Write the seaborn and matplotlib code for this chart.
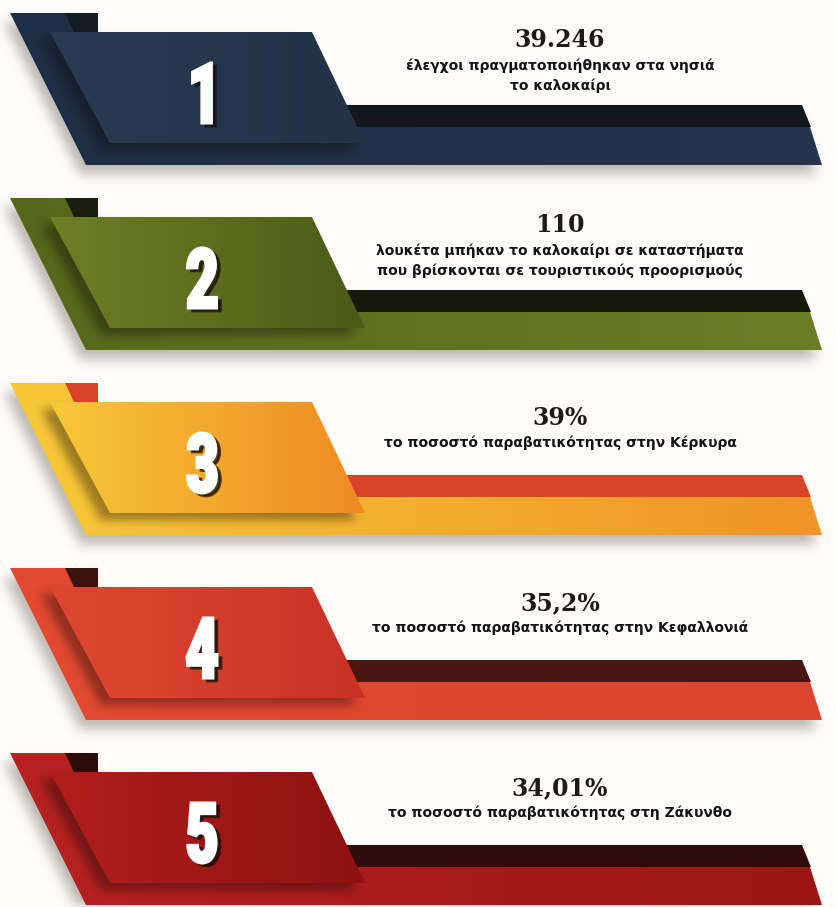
import numpy as np
import matplotlib.pyplot as plt
import seaborn as sns
from matplotlib.patches import Polygon, PathPatch
from matplotlib.path import Path
from matplotlib.textpath import TextPath
from matplotlib.font_manager import FontProperties
from matplotlib.colors import LinearSegmentedColormap
import matplotlib.transforms as mtransforms

# ─── Data ─────────────────────────────────────────────────────────────────────

ranks = ["1", "2", "3", "4", "5"]
values = ["39.246", "110", "39%", "35,2%", "34,01%"]
descriptions = [
    "έλεγχοι πραγματοποιήθηκαν στα νησιά\nτο καλοκαίρι",
    "λουκέτα μπήκαν το καλοκαίρι σε καταστήματα\nπου βρίσκονται σε τουριστικούς προορισμούς",
    "το ποσοστό παραβατικότητας στην Κέρκυρα",
    "το ποσοστό παραβατικότητας στην Κεφαλλονιά",
    "το ποσοστό παραβατικότητας στη Ζάκυνθο",
]

front_colors = [("#2a3b52", "#223247"), ("#6f7f25", "#4c5a18"), ("#f7c83a", "#ee8a24"),
                ("#de4832", "#c83224"), ("#b21e1c", "#8c1212")]
back_colors = [("#1f2e44", "#25364c"), ("#56661c", "#6c7c26"), ("#f6c838", "#ef9428"),
               ("#e24a32", "#dc4430"), ("#b62222", "#9a1616")]
strip_colors = ["#12171e", "#16190b", "#d8432a", "#4a1612", "#2e0d0b"]
tab_colors = ["#151b23", "#1b1d0e", "#d8432a", "#3c140f", "#2a0c0a"]

# ─── Layout ───────────────────────────────────────────────────────────────────

W, H = 837, 907
TOP0, STEP = 13, 185
TEXT_X = 560

sns.set_theme(style="white")
plt.rcParams["font.family"] = ["DejaVu Sans"]

fig = plt.figure(figsize=(W / 100, H / 100), dpi=100)
fig.patch.set_facecolor("#fdfcfa")
ax = fig.add_axes([0, 0, 1, 1])
ax.set_facecolor("#fdfcfa")


def panel_shapes(y0):
    back = np.array([(10, 0), (98, 0), (98, 19), (300, 19), (350, 114),
                     (810, 114), (822, 152), (86, 152)], float)
    tab = np.array([(65, 0), (98, 0), (98, 19), (74, 19)], float)
    strip = np.array([(330, 92), (802, 92), (811, 114), (330, 114)], float)
    front = np.array([(50, 19), (312, 19), (365, 130), (110, 130)], float)
    out = {}
    for k, v in dict(back=back, tab=tab, strip=strip, front=front).items():
        v = v.copy()
        v[:, 1] += y0
        out[k] = v
    return out


def box(a, r, axis):
    a = np.moveaxis(a, axis, 0)
    p = np.pad(a, ((r + 1, r), (0, 0)))
    c = np.cumsum(p, axis=0)
    res = (c[2 * r + 1:] - c[:-2 * r - 1]) / (2 * r + 1)
    return np.moveaxis(res, 0, axis)


def blur(a, r, passes=3):
    for axis in (0, 1):
        for _ in range(passes):
            a = box(a, r, axis)
    return a


gx, gy = np.meshgrid(np.arange(W) + 0.5, np.arange(H) + 0.5)
grid_pts = np.column_stack([gx.ravel(), gy.ravel()])


def mask_of(verts, dx=0, dy=0):
    v = verts + np.array([dx, dy])
    return Path(v).contains_points(grid_pts).reshape(H, W).astype(float)


def grad_fill(verts, c1, c2, z):
    poly = Polygon(verts, closed=True, facecolor="none", edgecolor="none")
    ax.add_patch(poly)
    x0, x1 = verts[:, 0].min(), verts[:, 0].max()
    y0, y1 = verts[:, 1].min(), verts[:, 1].max()
    cmap = LinearSegmentedColormap.from_list("g", [c1, c2])
    im = ax.imshow(np.linspace(0, 1, 256).reshape(1, -1), cmap=cmap,
                   extent=(x0, x1, y1, y0), aspect="auto", zorder=z,
                   interpolation="bilinear")
    im.set_clip_path(poly)


def shadow_layer(mask, color, alpha, z, clip=None):
    rgba = np.zeros((H, W, 4))
    rgba[..., :3] = np.array(color)
    rgba[..., 3] = np.clip(mask, 0, 1) * alpha
    im = ax.imshow(rgba, extent=(0, W, H, 0), aspect="auto", zorder=z,
                   interpolation="bilinear")
    if clip is not None:
        patch = Polygon(clip, closed=True, facecolor="none", edgecolor="none")
        ax.add_patch(patch)
        im.set_clip_path(patch)


digit_prop = FontProperties(family="Roboto", weight="heavy")


def draw_digit(s, cx, cy, height, z):
    tp = TextPath((0, 0), s, size=1, prop=digit_prop)
    ext = tp.get_extents()
    sy = height / (ext.y1 - ext.y0)
    sx = sy * 0.68
    tr = (mtransforms.Affine2D()
          .translate(-(ext.x0 + ext.x1) / 2, -(ext.y0 + ext.y1) / 2)
          .scale(sx, -sy)
          .translate(cx, cy))
    path = tr.transform_path(tp)
    sh = mtransforms.Affine2D().translate(4, 3).transform_path(path)
    ax.add_patch(PathPatch(sh, facecolor="#1a0f08", edgecolor="#1a0f08", lw=2,
                           alpha=0.7, zorder=z))
    ax.add_patch(PathPatch(path, facecolor="#ffffff", edgecolor="#ffffff", lw=2.2,
                           zorder=z + 0.1))


# ─── Soft drop shadow under every ribbon ─────────────────────────────────────

all_shapes = [panel_shapes(TOP0 + i * STEP) for i in range(len(ranks))]
big = np.zeros((H, W))
for sh in all_shapes:
    big = np.maximum(big, mask_of(sh["back"], -6, 9))
    big = np.maximum(big, mask_of(sh["strip"], -6, 9))
shadow_layer(blur(big, 5), (0.45, 0.40, 0.36), 0.45, 0.5)

# ─── Ribbons ──────────────────────────────────────────────────────────────────

for i, sh in enumerate(all_shapes):
    y0 = TOP0 + i * STEP
    grad_fill(sh["back"], back_colors[i][0], back_colors[i][1], 1)
    ax.add_patch(Polygon(sh["tab"], closed=True, facecolor=tab_colors[i], edgecolor="none", zorder=1.2))
    ax.add_patch(Polygon(sh["strip"], closed=True, facecolor=strip_colors[i], edgecolor="none", zorder=1.3))
    # shade cast by the front plate on the back plate
    fm = blur(mask_of(sh["front"], -9, 7), 4)
    shadow_layer(fm, (0.05, 0.03, 0.02), 0.38, 1.5, clip=sh["back"])
    grad_fill(sh["front"], front_colors[i][0], front_colors[i][1], 2)
    draw_digit(ranks[i], 202, y0 + 80, 60, 3)

    lines = descriptions[i].split("\n")
    if len(lines) > 1:
        vy, dy = y0 + 27, y0 + 53
    else:
        vy, dy = y0 + 35, y0 + 60
    ax.text(TEXT_X, vy, values[i], ha="center", va="center", fontsize=17,
            fontweight="bold", family=["DejaVu Serif"], color="#1f1a15", zorder=4)
    for j, line in enumerate(lines):
        ax.text(TEXT_X, dy + j * 20, line, ha="center", va="center", fontsize=10,
                fontweight="bold", family=["DejaVu Sans"], color="#141414", zorder=4)

ax.set_xlim(0, W)
ax.set_ylim(H, 0)
ax.axis("off")
fig.savefig("out.png", dpi=100, facecolor=fig.get_facecolor())
